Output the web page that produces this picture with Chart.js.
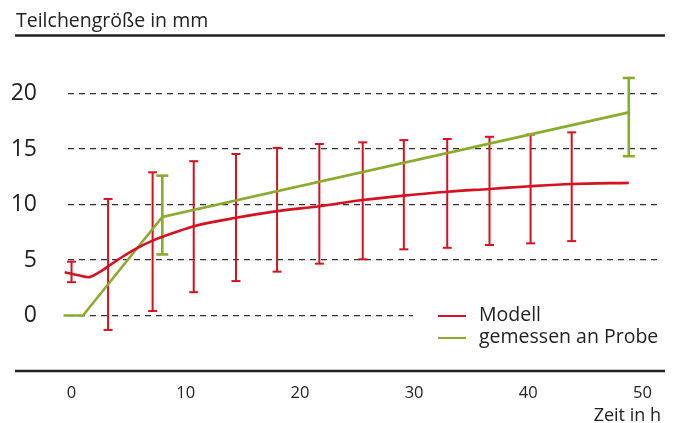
<!DOCTYPE html>
<html>
<head>
<meta charset="utf-8">
<script src="https://cdn.jsdelivr.net/npm/chart.js@4.4.1/dist/chart.umd.min.js"></script>
<style>
html,body{margin:0;padding:0;background:#fff;}
#wrap{position:relative;width:673px;height:423px;overflow:hidden;}
#c{position:absolute;left:0;top:0;}
#title{position:absolute;left:16px;top:9.4px;height:22px;line-height:22px;font-family:'Open Sans',sans-serif;font-size:19.5px;color:#222;white-space:nowrap;}
#legend{position:absolute;left:413px;top:303px;width:256px;height:46px;background:#fff;font-family:'Open Sans',sans-serif;font-size:19.5px;color:#222;}
#legend .row{position:absolute;left:0;height:22px;line-height:22px;white-space:nowrap;}
#legend .sw{position:absolute;left:25px;width:28px;height:2.5px;}
#legend .tx{position:absolute;left:66px;top:0;}
</style>
</head>
<body>
<div id="wrap">
<canvas id="c" width="673" height="423"></canvas>
<div id="title"></div>
<div id="legend"></div>
</div>
<script>
// ---- data ----
const titleText = 'Teilchengröße in mm';
const xAxisTitle = 'Zeit in h';
const xTicks = [0, 10, 20, 30, 40, 50];
const yTicks = [0, 5, 10, 15, 20];

const modelLabel = 'Modell';
const modelT = [-0.6, 0.6, 1.5, 2.4, 3.2, 4.4, 5.7, 7.1, 9.9, 10.7, 14.4, 18.0, 21.7, 25.5, 29.1, 32.9, 36.6, 40.2, 43.8, 48.8];
const modelY = [3.9, 3.62, 3.45, 3.88, 4.42, 5.25, 6.05, 6.75, 7.78, 8.04, 8.8, 9.4, 9.85, 10.4, 10.8, 11.15, 11.4, 11.65, 11.85, 11.95];
const modelErrT  = [0, 3.2, 7.1, 10.7, 14.4, 18.0, 21.7, 25.5, 29.1, 32.9, 36.6, 40.2, 43.8];
const modelErrLo = [3.0, -1.3, 0.4, 2.1, 3.1, 3.95, 4.67, 5.06, 5.96, 6.1, 6.35, 6.5, 6.7];
const modelErrHi = [4.85, 10.5, 12.9, 13.9, 14.55, 15.1, 15.45, 15.6, 15.8, 15.9, 16.1, 16.3, 16.5];

const measLabel = 'gemessen an Probe';
const measT = [-0.7, 1.0, 7.95, 48.8];
const measY = [0, 0, 8.88, 18.3];
const measErrT  = [7.95, 48.8];
const measErrLo = [5.5, 14.35];
const measErrHi = [12.6, 21.4];

// ---- styles ----
const RED = '#d3131f';
const GREEN = '#8bab2f';
const TEXT = '#222222';
const FONT = "'Open Sans', sans-serif";

function pts(ts, ys){ return ts.map((t,i)=>({x:t, y:ys[i]})); }
function errPts(ts, lo, hi){
  const d = [];
  ts.forEach((t,i)=>{ d.push({x:t,y:lo[i]}, {x:t,y:hi[i]}, {x:t,y:null}); });
  return d;
}

const rulesPlugin = {
  id: 'rules',
  afterDraw(chart){
    const ctx = chart.ctx;
    const yb = chart.scales.y.getPixelForValue(-5);
    ctx.save();
    ctx.strokeStyle = TEXT;
    ctx.lineWidth = 2.5;
    ctx.beginPath();
    ctx.moveTo(15, 35.5); ctx.lineTo(665, 35.5);
    ctx.moveTo(15, yb); ctx.lineTo(665, yb);
    ctx.stroke();
    ctx.restore();
  }
};

const chart = new Chart(document.getElementById('c'), {
  type: 'scatter',
  data: {
    datasets: [
      { label: modelLabel, data: pts(modelT, modelY), showLine: true, borderColor: RED, backgroundColor: RED,
        borderWidth: 2.6, pointRadius: 0, cubicInterpolationMode: 'monotone', clip: false },
      { label: measLabel, data: pts(measT, measY), showLine: true, borderColor: GREEN, backgroundColor: GREEN,
        borderWidth: 2.6, pointRadius: 0, tension: 0, clip: false },
      { label: 'err-model', data: errPts(modelErrT, modelErrLo, modelErrHi), showLine: true, spanGaps: false,
        borderColor: RED, borderWidth: 2, pointStyle: 'line', pointRadius: 4.5, pointBorderWidth: 2,
        pointBorderColor: RED, clip: false },
      { label: 'err-meas', data: errPts(measErrT, measErrLo, measErrHi), showLine: true, spanGaps: false,
        borderColor: GREEN, borderWidth: 2.6, pointStyle: 'line', pointRadius: 6, pointBorderWidth: 2.6,
        pointBorderColor: GREEN, clip: false }
    ]
  },
  options: {
    responsive: false,
    animation: false,
    events: [],
    devicePixelRatio: 1,
    layout: { padding: { left: 0, right: 12, top: 38, bottom: 0 }, autoPadding: false },
    plugins: {
      legend: { display: false },
      tooltip: { enabled: false },
      title: { display: false }
    },
    scales: {
      x: {
        type: 'linear', position: 'bottom', min: -0.31, max: 51.62,
        grid: { display: false, drawTicks: false },
        border: { display: false },
        afterBuildTicks: (s) => { s.ticks = xTicks.map(v => ({ value: v })); },
        afterFit: (s) => { s.height = 52; },
        ticks: { color: TEXT, font: { family: FONT, size: 16.5 }, padding: 12, maxRotation: 0 },
        title: { display: true, text: xAxisTitle, align: 'end', color: TEXT,
          font: { family: FONT, size: 18, lineHeight: 0.8 }, padding: { top: 0, bottom: 0 } }
      },
      y: {
        type: 'linear', min: -5, max: 25,
        grid: { display: true, color: '#333333', lineWidth: 1.2, drawTicks: true, tickLength: 31, tickColor: 'rgba(0,0,0,0)' },
        border: { display: false, dash: [6, 5] },
        afterBuildTicks: (s) => { s.ticks = yTicks.map(v => ({ value: v })); },
        afterFit: (s) => { s.width = 68; },
        ticks: { color: TEXT, font: { family: FONT, size: 23 }, padding: 0 }
      }
    }
  },
  plugins: [rulesPlugin]
});

document.getElementById('title').textContent = titleText;

// HTML legend built from the chart's datasets
const leg = document.getElementById('legend');
chart.data.datasets.slice(0, 2).forEach((ds, i) => {
  const row = document.createElement('div');
  row.className = 'row';
  row.style.top = (i * 22) + 'px';
  row.style.width = '256px';
  const sw = document.createElement('div');
  sw.className = 'sw';
  sw.style.background = ds.borderColor;
  sw.style.top = '11.5px';
  const tx = document.createElement('span');
  tx.className = 'tx';
  tx.textContent = ds.label;
  row.appendChild(sw); row.appendChild(tx);
  leg.appendChild(row);
});
</script>
</body>
</html>
